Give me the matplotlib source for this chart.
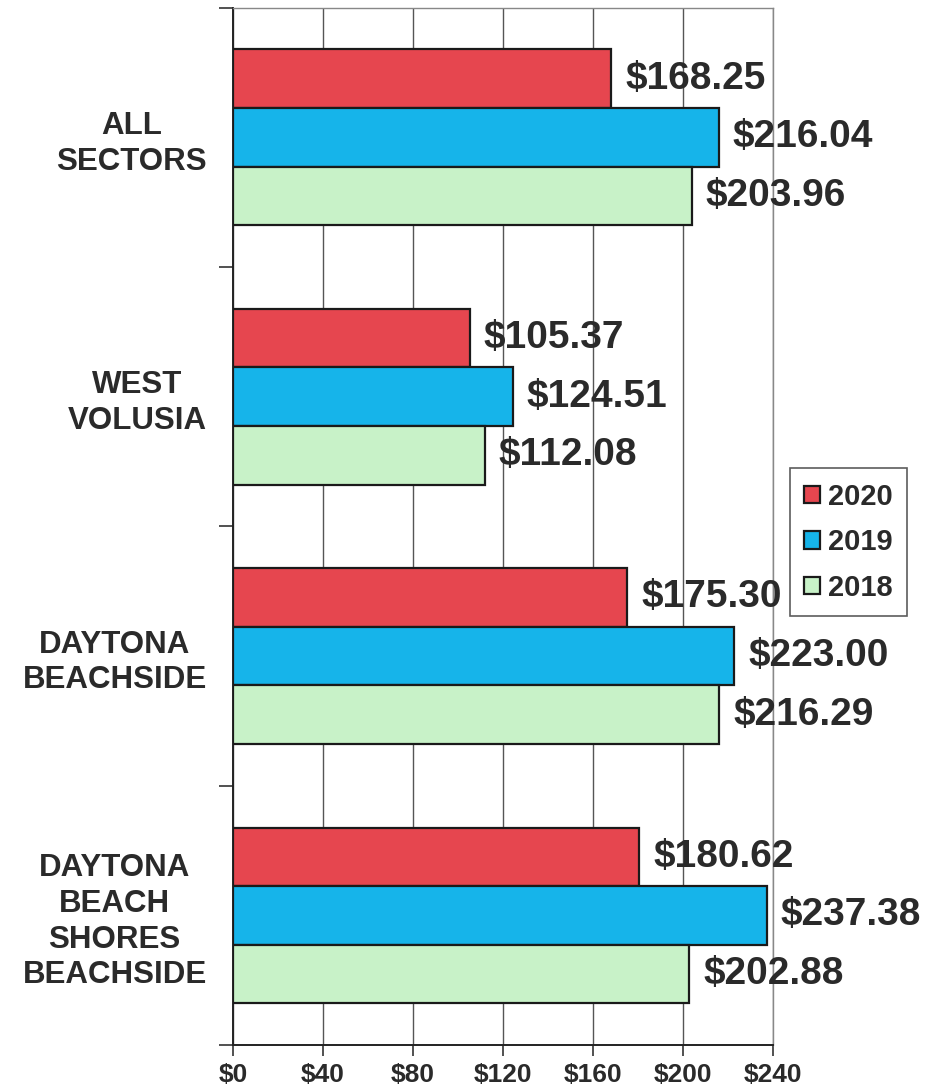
import numpy as np
import matplotlib

matplotlib.use("Agg")
import matplotlib.pyplot as plt  # noqa: E402

plt.rcParams["font.family"] = ["Liberation Sans", "DejaVu Sans"]

sectors = [
    "ALL\nSECTORS",
    "WEST\nVOLUSIA",
    "DAYTONA\nBEACHSIDE",
    "DAYTONA\nBEACH\nSHORES\nBEACHSIDE",
]
years = ["2020", "2019", "2018"]
rate_2020 = [168.25, 105.37, 175.30, 180.62]
rate_2019 = [216.04, 124.51, 223.00, 237.38]
rate_2018 = [203.96, 112.08, 216.29, 202.88]
x_ticks = [0, 40, 80, 120, 160, 200, 240]

COLORS = ["#e6464f", "#16b4ea", "#c8f2c8"]
TEXT = "#2a2a2a"


def main() -> None:
    fig = plt.figure(figsize=(9.4, 10.91), dpi=100)
    ax = fig.add_axes([0.248, 0.042, 0.574, 0.951])

    pos = np.arange(len(sectors))
    h = 0.226
    series = [rate_2020, rate_2019, rate_2018]
    for i, (vals, year) in enumerate(zip(series, years)):
        bars = ax.barh(
            pos + (i - 1) * h,
            vals,
            height=h,
            color=COLORS[i],
            edgecolor="#1a1a1a",
            linewidth=1.6,
            label=year,
            zorder=3,
        )
        for b, v in zip(bars, vals):
            ax.annotate(
                f"${v:.2f}",
                (b.get_width(), b.get_y() + h / 2),
                xytext=(10, 0),
                textcoords="offset points",
                va="center",
                ha="left",
                fontsize=28,
                fontweight="bold",
                color=TEXT,
                zorder=4,
            )

    ax.set_xlim(0, 240)
    ax.set_ylim(len(sectors) - 0.5, -0.5)
    ax.set_xticks(x_ticks)
    ax.set_xticklabels([f"${t}" for t in x_ticks], fontsize=19, fontweight="bold", color=TEXT)
    ax.tick_params(axis="x", length=8, width=1.2, color="#333333", pad=5)

    ax.set_yticks(np.arange(len(sectors) + 1) - 0.5)
    ax.set_yticklabels([])
    ax.tick_params(axis="y", which="major", length=10, width=1.2, color="#333333")
    ax.set_yticks(pos, minor=True)
    ax.set_yticklabels(sectors, minor=True, fontsize=22.5, fontweight="bold", color=TEXT,
                       linespacing=1.25)
    ax.tick_params(axis="y", which="minor", length=0, pad=19)
    for lbl in ax.get_yticklabels(minor=True):
        lbl.set_multialignment("center")

    ax.grid(axis="x", color="#555555", linewidth=1.0, zorder=0)
    for s in ["top", "right"]:
        ax.spines[s].set_color("#888888")
        ax.spines[s].set_linewidth(1.0)
    for s in ["left", "bottom"]:
        ax.spines[s].set_color("#222222")
        ax.spines[s].set_linewidth(1.4)

    leg = ax.legend(
        loc="upper left",
        bbox_to_anchor=(0.840, 0.571),
        bbox_transform=fig.transFigure,
        borderaxespad=0,
        fancybox=False,
        edgecolor="#333333",
        prop={"size": 21, "weight": "bold"},
        handlelength=0.55,
        handleheight=0.55,
        handletextpad=0.25,
        labelspacing=0.6,
        borderpad=0.5,
    )
    leg.get_frame().set_linewidth(1.2)
    for t in leg.get_texts():
        t.set_color(TEXT)

    fig.savefig("out.png", dpi=100)


if __name__ == "__main__":
    main()
